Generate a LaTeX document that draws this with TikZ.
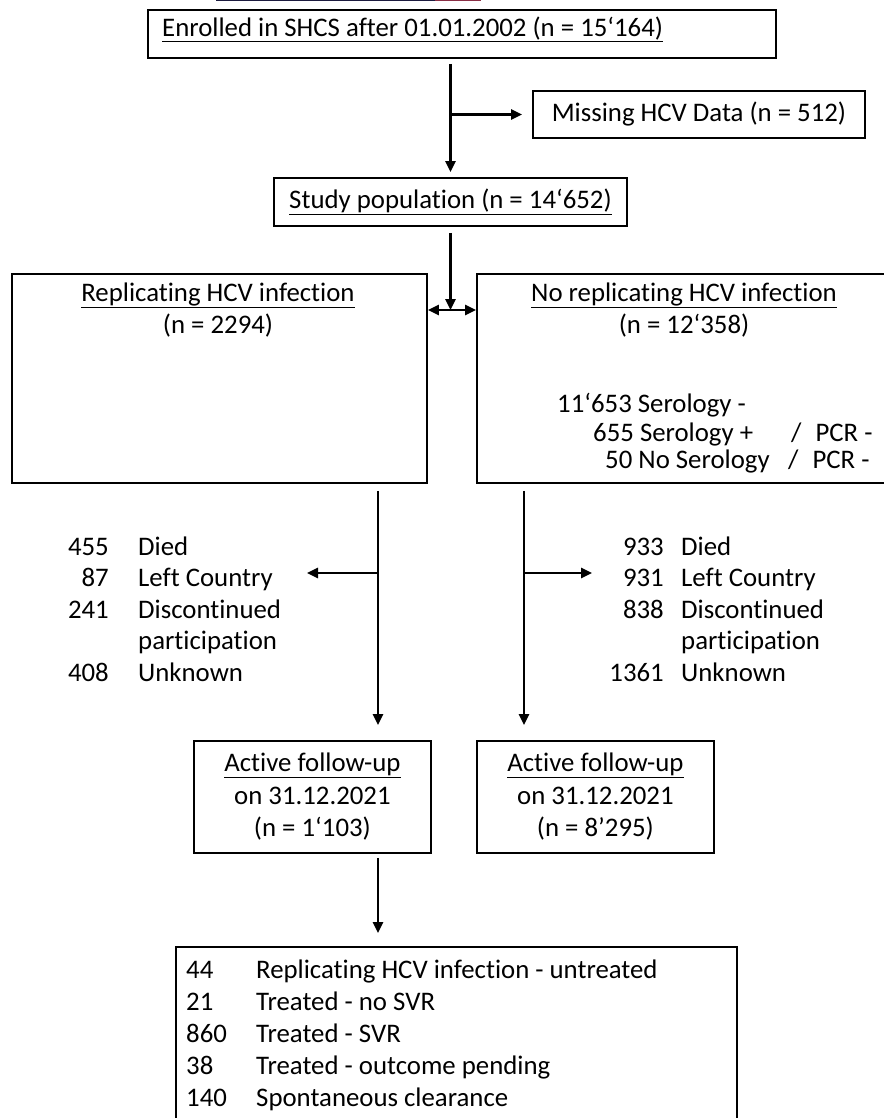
\documentclass[tikz,border=0pt]{standalone}
\usepackage{fontspec}
\setmainfont{Carlito}[Ligatures=NoCommon]
\usepackage{xcolor}
\usetikzlibrary{arrows.meta,positioning}
\definecolor{topnavy}{HTML}{1C1B3F}
\definecolor{topred}{HTML}{8A2F45}

\begin{document}
\begin{tikzpicture}[x=1pt,y=-1pt,
		every node/.style={font=\fontsize{26.8}{32.5}\selectfont},
		frame/.style={draw,line width=1.8pt,inner sep=0pt},
		tip/.style={-{Triangle[length=11pt,width=10pt]}},
		arr/.style={line width=2.5pt,tip},
		txt/.style={inner sep=0pt,anchor=mid west},
		num/.style={inner sep=0pt,anchor=mid east},
		ctr/.style={inner sep=0pt,anchor=mid}]
		\useasboundingbox (0,0) rectangle (883,1118);
		%
		\fill[topnavy] (216,0) rectangle (435,1.2);
		\fill[topred] (435,0) rectangle (481,1.2);
		%
		\node[frame,anchor=north west,minimum width=628pt,minimum height=48pt] (enrol) at (147,9) {};
		\node[txt] (enroltxt) at ([xshift=15pt]enrol.west) {\underline{Enrolled in SHCS after 01.01.2002 (n = 15‘164)}};
		\node[frame,minimum width=332pt,minimum height=47pt] (missing) at (699,114.5) {Missing HCV Data (n = 512)};
		\node[frame,minimum width=353pt,minimum height=48pt] (study) at (450.5,202) {\underline{Study population (n = 14‘652)}};
		\draw[arr,shorten <=5pt,shorten >=5pt] (study.north |- enrol.south) -- (study.north);
		\draw[arr,shorten >=10pt] (study.north |- missing.west) -- (missing.west);
		%
		\node[frame,anchor=north west,minimum width=415pt,minimum height=209pt] (repl) at (11,273) {};
		\node[frame,anchor=north west,minimum width=420pt,minimum height=209pt] (norepl) at (476,273) {};
		\node[ctr] (repltitle) at (218,299) {\underline{Replicating HCV infection}};
		\node[ctr] (repln) at (218,331) {(n = 2294)};
		\node[ctr] (norepltitle) at (684,299) {\underline{No replicating HCV infection}};
		\node[ctr] (norepln) at (684,331) {(n = 12‘358)};
		\node[txt] (sero1) at (557,410) {11‘653 Serology -};
		\node[txt] (sero2) at (593,439) {655 Serology +};
		\node[txt] (sero3) at (605,466) {50 No Serology};
		\node[txt] (pcr2) at (791,439) {/\hspace{14pt}PCR -};
		\node[txt] (pcr3) at (788,466) {/\hspace{14pt}PCR -};
		%
		\coordinate (split) at (450.5,310);
		\draw[arr,shorten <=6pt] (study.south) -- (split);
		\draw[line width=2.5pt,{Triangle[length=11pt,width=10pt]}-{Triangle[length=11pt,width=10pt]}] (repl.east |- split) -- (norepl.west |- split);
		%
		\node[frame,anchor=north west,minimum width=237pt,minimum height=112pt,align=center] (fu1) at (193,740) {\underline{Active follow-up}\\on 31.12.2021\\(n = 1‘103)};
		\node[frame,anchor=north west,minimum width=237pt,minimum height=112pt,align=center] (fu2) at (476,740) {\underline{Active follow-up}\\on 31.12.2021\\(n = 8’295)};
		%
		\coordinate (lcol) at (378,0);
		\coordinate (rcol) at (524,0);
		\coordinate (lout) at (307,573);
		\coordinate (rout) at (592,573);
		\draw[arr,shorten <=7pt,shorten >=15pt] (repl.south -| lcol) -- (fu1.north -| lcol);
		\draw[arr,shorten <=7pt,shorten >=15pt] (norepl.south -| rcol) -- (fu2.north -| rcol);
		\draw[arr] (lcol |- lout) -- (lout);
		\draw[arr] (rcol |- rout) -- (rout);
		\foreach \val/\what [count=\i] in {455/Died,87/Left Country,241/Discontinued,/participation,408/Unknown}{
			\node[num] (lnum\i) at (109,521.5+31.5*\i) {\val};
			\node[txt] (llab\i) at (138,521.5+31.5*\i) {\what};
		}
		\foreach \val/\what [count=\i] in {933/Died,931/Left Country,838/Discontinued,/participation,1361/Unknown}{
			\node[num] (rnum\i) at (664,521.5+31.5*\i) {\val};
			\node[txt] (rlab\i) at (681,521.5+31.5*\i) {\what};
		}
		%
		\node[frame,anchor=north west,minimum width=561pt,minimum height=190pt] (outcome) at (175,946) {};
		\draw[arr,shorten <=4pt,shorten >=13pt] (fu1.south -| lcol) -- (outcome.north -| lcol);
		\foreach \val/\what [count=\i] in {44/Replicating HCV infection - untreated,21/Treated - no SVR,860/Treated - SVR,38/Treated - outcome pending,140/Spontaneous clearance}{
			\node[txt] (onum\i) at (186,944+32*\i) {\val};
			\node[txt] (olab\i) at (256,944+32*\i) {\what};
		}
	\end{tikzpicture}
\end{document}
